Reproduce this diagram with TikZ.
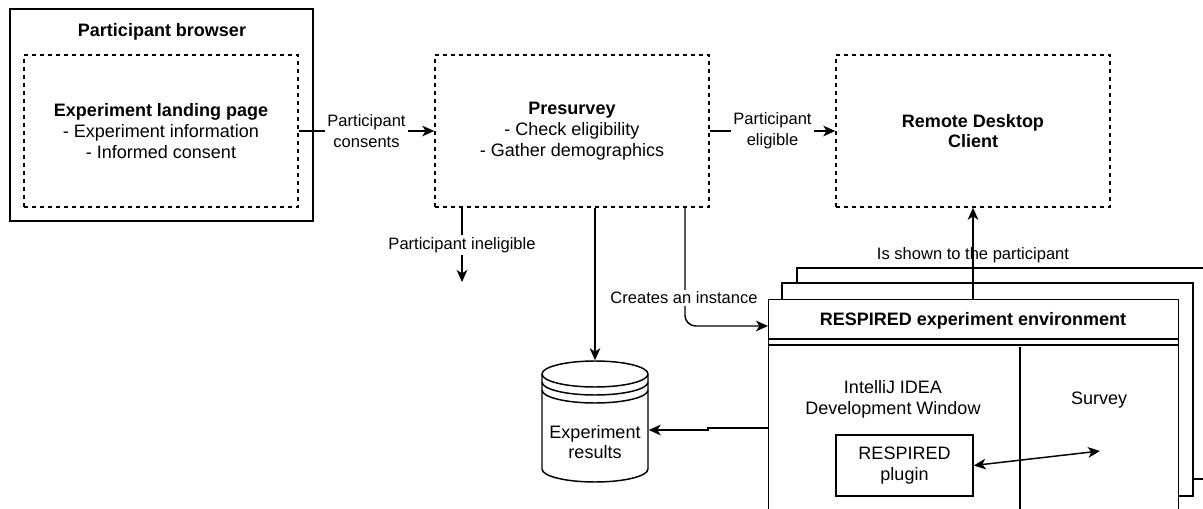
\documentclass[tikz,border=0pt]{standalone}
\usepackage{fontspec}
\setmainfont{Liberation Sans}
\usetikzlibrary{arrows.meta}
\newcommand\mainfs{\fontsize{13.5}{15.6}\selectfont}
\newcommand\lblfs{\fontsize{12.4}{15.8}\selectfont}
\begin{document}
\begin{tikzpicture}[x=0.75pt,y=-0.75pt,line width=1.1pt,
  dbox/.style={draw,dash pattern=on 3pt off 3pt,minimum width=205.5pt,minimum height=114pt,align=center,font=\mainfs,inner sep=0pt},
  arr/.style={-{Stealth[length=9pt,width=8pt,inset=2.5pt]}},
  arrb/.style={{Stealth[length=9pt,width=8pt,inset=2.5pt]}-{Stealth[length=9pt,width=8pt,inset=2.5pt]}},
  lbl/.style={fill=white,font=\lblfs,align=center,inner sep=1.5pt},
  plain/.style={font=\mainfs,align=center,inner sep=0pt}]
\useasboundingbox (0,0) rectangle (1203,509);
\clip (0,0) rectangle (1203,509);
% participant browser
\node[draw,minimum width=227.25pt,minimum height=159pt,inner sep=0pt] (browser) at (161.5,115) {};
\node[plain,font=\mainfs\bfseries] (browsert) at (162,32) {Participant browser};
\node[dbox] (landing) at (161,131) {\textbf{Experiment landing page}\\- Experiment information\\- Informed consent};
\node[dbox] (presurvey) at (572,131) {\textbf{Presurvey}\\- Check eligibility\\- Gather demographics};
\node[dbox] (remote) at (973,131) {\textbf{Remote Desktop}\\\textbf{Client}};
\draw[arr] (landing.east) -- node[lbl]{Participant\\consents} (presurvey.west);
\draw[arr] (presurvey.east) -- node[lbl]{Participant\\eligible} (remote.west);
\coordinate (inel) at (462,282);
\draw[arr] (presurvey.south -| inel) -- node[lbl]{Participant ineligible} (inel);
% database
\node[minimum width=79.5pt,minimum height=90.75pt,inner sep=0pt] (db) at (595,421.5) {};
\draw[fill=white] (542,374) -- (542,469) arc[start angle=180,end angle=360,x radius=39.75pt,y radius=9.75pt] -- (648,374) arc[start angle=0,end angle=180,x radius=39.75pt,y radius=9.75pt] -- cycle;
\draw (542,374) arc[start angle=180,end angle=360,x radius=39.75pt,y radius=9.75pt];
\draw (542,382) arc[start angle=180,end angle=360,x radius=39.75pt,y radius=9.75pt];
\draw (542,390) arc[start angle=180,end angle=360,x radius=39.75pt,y radius=9.75pt];
\node[plain] (dbt) at (595,442) {Experiment\\results};
\draw[arr] (presurvey.south -| db.north) -- (db.north);
% environment stack
\draw[fill=white] (797,268) rectangle (1215,479);
\draw[fill=white] (782,283) rectangle (1193,496);
\node[draw,fill=white,anchor=north west,minimum width=307.5pt,minimum height=175pt,inner sep=0pt] (env) at (768,299) {};
\node[plain,font=\mainfs\bfseries] (hdr) at (973,321) {RESPIRED experiment environment};
\draw (768,339) -- (1178,339);
\draw (768,345) -- (1178,345);
\draw (1020,347) -- (1020,530);
\node[plain] (ide) at (893,399.5) {IntelliJ IDEA\\Development Window};
\node[plain] (survey) at (1099,400) {Survey};
\node[draw,minimum width=102.75pt,minimum height=45.75pt,align=center,font=\mainfs,inner sep=0pt] (plugin) at (904.5,465.5) {RESPIRED\\plugin};
\coordinate (surv) at (1100,451);
\draw[arrb] (plugin.east) -- (surv);
% connectors to environment
\draw[arr] (env.north -| remote.south) -- (remote.south);
\node[font=\lblfs,inner sep=0pt] (shown) at (973,255) {Is shown to the participant};
\coordinate (cx) at (685,0);
\coordinate (envin) at (768,326);
\draw[arr,rounded corners=8pt] (presurvey.south -| cx) |- (envin);
\node[lbl] (creates) at (684,298) {Creates an instance};
\coordinate (envl) at (768,428);
\coordinate (dbin) at (0,430);
\draw[arr] (envl) -- (708,428) -- (708,430) -- (db.east |- dbin);
\end{tikzpicture}
\end{document}
